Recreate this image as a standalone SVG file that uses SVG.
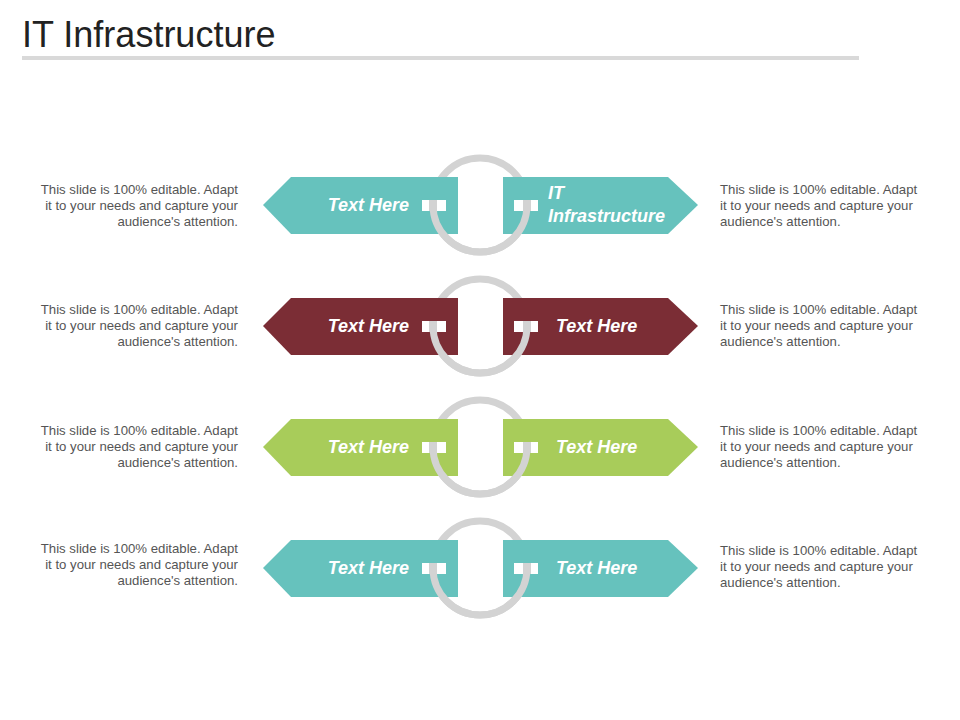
<svg xmlns="http://www.w3.org/2000/svg" width="960" height="720" viewBox="0 0 960 720">
<defs>
<style>
.d{font-family:"Liberation Sans",Arial,sans-serif;font-size:13.2px;fill:#555}
.l{font-family:"Liberation Sans",Arial,sans-serif;font-size:18px;font-weight:bold;font-style:italic;fill:#fff}
.ring{fill:none;stroke:#d3d3d3;stroke-width:7}
.hole{fill:#fff}
</style>
</defs>
<rect width="960" height="720" fill="#fff"/>
<text x="22" y="47" font-family="Liberation Sans,Arial,sans-serif" font-size="36" fill="#222">IT Infrastructure</text>
<rect x="22" y="56" width="837" height="4" fill="#d9d9d9"/>
<g id="connectors"></g>
<g id="row1" transform="translate(0,0)">
<circle class="ring" cx="480" cy="205" r="47"/>
<polygon points="263,205 291,177 458,177 458,234 291,234" fill="#66c2bd"/>
<polygon points="503,177 668,177 698,205 668,234 503,234" fill="#66c2bd"/>
<path class="ring" d="M433,205 A47,47 0 0 0 527,205"/>
<rect class="hole" x="422" y="200" width="24" height="11"/><rect x="429" y="200" width="8" height="11" fill="#d3d3d3"/>
<rect class="hole" x="514" y="200" width="24" height="11"/><rect x="523" y="200" width="8" height="11" fill="#d3d3d3"/>
<text class="l" x="409" y="211" text-anchor="end">Text Here</text>
<text class="l" x="548" y="199">IT</text><text class="l" x="548" y="222">Infrastructure</text>
</g>
<g id="row2" transform="translate(0,121)">
<circle class="ring" cx="480" cy="205" r="47"/>
<polygon points="263,205 291,177 458,177 458,234 291,234" fill="#7b2d35"/>
<polygon points="503,177 668,177 698,205 668,234 503,234" fill="#7b2d35"/>
<path class="ring" d="M433,205 A47,47 0 0 0 527,205"/>
<rect class="hole" x="422" y="200" width="24" height="11"/><rect x="429" y="200" width="8" height="11" fill="#d3d3d3"/>
<rect class="hole" x="514" y="200" width="24" height="11"/><rect x="523" y="200" width="8" height="11" fill="#d3d3d3"/>
<text class="l" x="409" y="211" text-anchor="end">Text Here</text>
<text class="l" x="556" y="211">Text Here</text>
</g>
<g id="row3" transform="translate(0,242)">
<circle class="ring" cx="480" cy="205" r="47"/>
<polygon points="263,205 291,177 458,177 458,234 291,234" fill="#a8cc5a"/>
<polygon points="503,177 668,177 698,205 668,234 503,234" fill="#a8cc5a"/>
<path class="ring" d="M433,205 A47,47 0 0 0 527,205"/>
<rect class="hole" x="422" y="200" width="24" height="11"/><rect x="429" y="200" width="8" height="11" fill="#d3d3d3"/>
<rect class="hole" x="514" y="200" width="24" height="11"/><rect x="523" y="200" width="8" height="11" fill="#d3d3d3"/>
<text class="l" x="409" y="211" text-anchor="end">Text Here</text>
<text class="l" x="556" y="211">Text Here</text>
</g>
<g id="row4" transform="translate(0,363)">
<circle class="ring" cx="480" cy="205" r="47"/>
<polygon points="263,205 291,177 458,177 458,234 291,234" fill="#66c2bd"/>
<polygon points="503,177 668,177 698,205 668,234 503,234" fill="#66c2bd"/>
<path class="ring" d="M433,205 A47,47 0 0 0 527,205"/>
<rect class="hole" x="422" y="200" width="24" height="11"/><rect x="429" y="200" width="8" height="11" fill="#d3d3d3"/>
<rect class="hole" x="514" y="200" width="24" height="11"/><rect x="523" y="200" width="8" height="11" fill="#d3d3d3"/>
<text class="l" x="409" y="211" text-anchor="end">Text Here</text>
<text class="l" x="556" y="211">Text Here</text>
</g>
<g id="descL" class="d" text-anchor="end">
<text x="238" y="194">This slide is 100% editable. Adapt</text><text x="238" y="210">it to your needs and capture your</text><text x="238" y="226">audience's attention.</text>
<text x="238" y="314">This slide is 100% editable. Adapt</text><text x="238" y="330">it to your needs and capture your</text><text x="238" y="346">audience's attention.</text>
<text x="238" y="435">This slide is 100% editable. Adapt</text><text x="238" y="451">it to your needs and capture your</text><text x="238" y="467">audience's attention.</text>
<text x="238" y="553">This slide is 100% editable. Adapt</text><text x="238" y="569">it to your needs and capture your</text><text x="238" y="585">audience's attention.</text>
</g>
<g id="descR" class="d">
<text x="720" y="194">This slide is 100% editable. Adapt</text><text x="720" y="210">it to your needs and capture your</text><text x="720" y="226">audience's attention.</text>
<text x="720" y="314">This slide is 100% editable. Adapt</text><text x="720" y="330">it to your needs and capture your</text><text x="720" y="346">audience's attention.</text>
<text x="720" y="435">This slide is 100% editable. Adapt</text><text x="720" y="451">it to your needs and capture your</text><text x="720" y="467">audience's attention.</text>
<text x="720" y="555">This slide is 100% editable. Adapt</text><text x="720" y="571">it to your needs and capture your</text><text x="720" y="587">audience's attention.</text>
</g>
</svg>
